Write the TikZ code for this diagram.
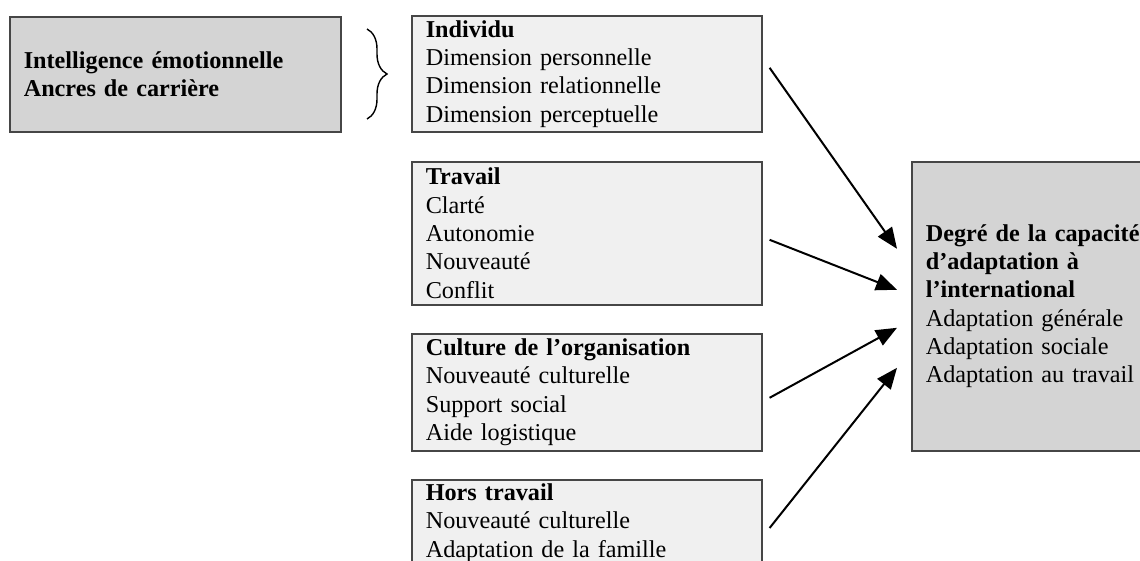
\documentclass[tikz,border=0pt]{standalone}
\usepackage{fontspec}
\setmainfont{Liberation Serif}
\usetikzlibrary{arrows.meta,calc,decorations.pathreplacing}
\definecolor{sidefill}{RGB}{212,212,212}
\definecolor{midfill}{RGB}{240,240,240}
\definecolor{edgegray}{RGB}{70,70,70}
\tikzset{
	box/.style={draw=edgegray, line width=0.8pt, anchor=north west, align=left,
		inner xsep=7pt, inner ysep=2pt, font=\fontsize{12.1}{14.15}\selectfont},
	sidebox/.style={box, fill=sidefill},
	midbox/.style={box, fill=midfill, text width=161pt, minimum height=#1},
	arr/.style={line width=1pt, -{Triangle[length=10.5pt,width=8.5pt]}}
}

\begin{document}
\begin{tikzpicture}[x=0.5pt,y=-0.5pt]
	\clip (0,0) rectangle (1140,561);
	
	% left block and brace
	\node[sidebox, text width=151.5pt, minimum height=57.5pt] (emo) at (9,16)
	{\textbf{Intelligence émotionnelle}\\\textbf{Ancres de carrière}};
	\draw[line width=0.7pt, decorate, decoration={brace, amplitude=10pt}] (367,29) -- (367,119);
	
	% the four groups
	\node[midbox=58pt] (indiv) at (411,15)
	{\textbf{Individu}\\Dimension personnelle\\Dimension relationnelle\\Dimension perceptuelle};
	\node[midbox=71.5pt] (trav) at (411,161)
	{\textbf{Travail}\\Clarté\\Autonomie\\Nouveauté\\Conflit};
	\node[midbox=58.5pt] (cult) at (411,333)
	{\textbf{Culture de l’organisation}\\Nouveauté culturelle\\Support social\\Aide logistique};
	\node[midbox=10pt] (hors) at (411,479)
	{\textbf{Hors travail}\\Nouveauté culturelle\\Adaptation de la famille};
	
	% outcome
	\node[sidebox, text width=111pt, minimum height=144.5pt] (res) at (911,161)
	{\textbf{Degré de la capacité}\\\textbf{d’adaptation à}\\\textbf{l’international}\\Adaptation générale\\Adaptation sociale\\Adaptation au travail};
	
	\draw[arr] ($(indiv.east)+(7,-6)$) -- ($(res.west)+(-14,-57.5)$);
	\draw[arr] ($(trav.east)+(7,6.5)$) -- ($(res.west)+(-14,-16.5)$);
	\draw[arr] ($(cult.east)+(7,5.5)$) -- ($(res.west)+(-14,21.5)$);
	\draw[arr] ($(hors.north east)+(7,49)$) -- ($(res.west)+(-14,61.5)$);
\end{tikzpicture}
\end{document}
